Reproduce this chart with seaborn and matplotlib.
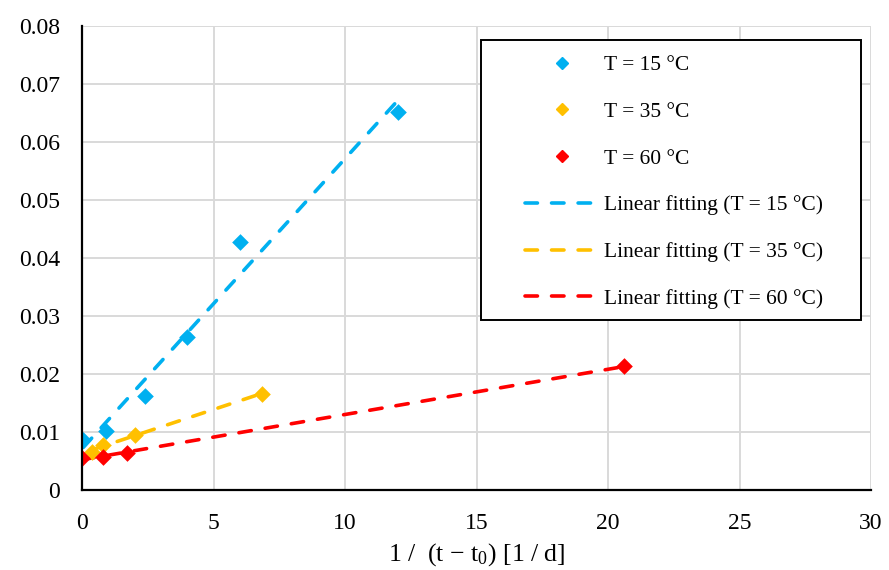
import numpy as np
import pandas as pd
import matplotlib
matplotlib.use("Agg")
import matplotlib.pyplot as plt
from matplotlib.patches import Rectangle
from matplotlib.lines import Line2D
import seaborn as sns

# ---- data ----
x_15 = [0.05, 0.9, 2.4, 4.0, 6.0, 12.0]
y_15 = [0.0086, 0.0102, 0.0162, 0.0264, 0.0428, 0.0652]
x_35 = [0.38, 0.8, 2.0, 6.84]
y_35 = [0.0066, 0.0078, 0.0095, 0.0166]
x_60 = [0.0, 0.8, 1.71, 20.6]
y_60 = [0.0055, 0.0057, 0.0064, 0.0213]

series_labels = ["T = 15 °C", "T = 35 °C", "T = 60 °C"]
fit_labels = ["Linear fitting (T = 15 °C)", "Linear fitting (T = 35 °C)", "Linear fitting (T = 60 °C)"]
colors = ["#00B0F0", "#FFC000", "#FF0000"]

x_ticks = [0, 5, 10, 15, 20, 25, 30]
y_ticks = [0, 0.01, 0.02, 0.03, 0.04, 0.05, 0.06, 0.07, 0.08]
y_tick_labels = ["0", "0.01", "0.02", "0.03", "0.04", "0.05", "0.06", "0.07", "0.08"]
x_label = r"1 /  (t − t$_{\mathrm{0}}$) [1 / d]"

# ---- style ----
sns.set_theme(style="white")
plt.rcParams["font.family"] = ["Liberation Serif", "DejaVu Serif"]
plt.rcParams["mathtext.fontset"] = "custom"
plt.rcParams["mathtext.rm"] = "Liberation Serif"
plt.rcParams["mathtext.it"] = "Liberation Serif:italic"

LW = 2.6
DASH = (3.45, 3.9)

fig, ax = plt.subplots(figsize=(8.89, 5.70), dpi=100)
fig.subplots_adjust(left=82/889, right=871/889, top=1-26/570, bottom=1-490/570)

xs = [x_15, x_35, x_60]
ys = [y_15, y_35, y_60]

for xv, yv, c, lab in zip(xs, ys, colors, series_labels):
    df = pd.DataFrame({"x": xv, "y": yv})
    sns.scatterplot(data=df, x="x", y="y", color=c, marker="D", s=72,
                    linewidth=0, ax=ax, zorder=4, legend=False)

for xv, yv, c, lab in zip(xs, ys, colors, fit_labels):
    k, b = np.polyfit(xv, yv, 1)
    xf = np.array([min(xv), max(xv)])
    df = pd.DataFrame({"x": xf, "y": k * xf + b})
    sns.lineplot(data=df, x="x", y="y", color=c, lw=LW, ax=ax, zorder=3,
                 legend=False, dashes=False)
    ln = ax.lines[-1]
    ln.set_dashes(DASH)
    ln.set_dash_capstyle("round")

ax.set_xlim(0, 30)
ax.set_ylim(0, 0.08)
ax.set_xticks(x_ticks)
ax.set_xticklabels([str(t) for t in x_ticks])
ax.set_yticks(y_ticks)
ax.set_yticklabels(y_tick_labels)
ax.grid(True, color="#d9d9d9", lw=1.4)
ax.set_axisbelow(True)
for s in ["top", "right"]:
    ax.spines[s].set_visible(False)
for s in ["left", "bottom"]:
    ax.spines[s].set_color("black")
    ax.spines[s].set_linewidth(1.6)
    ax.spines[s].set_zorder(5)
ax.tick_params(axis="both", direction="in", length=4, width=1.4, color="black",
               labelsize=17, labelcolor="black")
ax.tick_params(axis="y", pad=16)
ax.tick_params(axis="x", pad=16.5)
ax.set_xlabel(x_label, fontsize=18.5, color="black", labelpad=5)
ax.set_ylabel("")

# legend frame
frame = Rectangle(((481-82)/789, (490-320)/464), (861-481)/789, (320-40)/464,
                  transform=ax.transAxes, facecolor="white", edgecolor="black",
                  lw=1.4, zorder=6, clip_on=False)
ax.add_patch(frame)

handles = []
for c, lab in zip(colors, series_labels):
    handles.append(Line2D([], [], color=c, marker="D", ms=6, lw=0, label=lab))
for c, lab in zip(colors, fit_labels):
    h = Line2D([], [], color=c, lw=LW, label=lab)
    h.set_dashes(DASH)
    h.set_dash_capstyle("round")
    handles.append(h)

leg = ax.legend(handles=handles, loc="upper left",
                bbox_to_anchor=((525-82)/789, (490-55)/464),
                frameon=False, fontsize=15.5, handlelength=3.45,
                handletextpad=0.2, labelspacing=1.24, borderpad=0,
                borderaxespad=0)
leg.set_zorder(7)
for t in leg.get_texts():
    t.set_color("black")

fig.savefig("out.png", dpi=100)
